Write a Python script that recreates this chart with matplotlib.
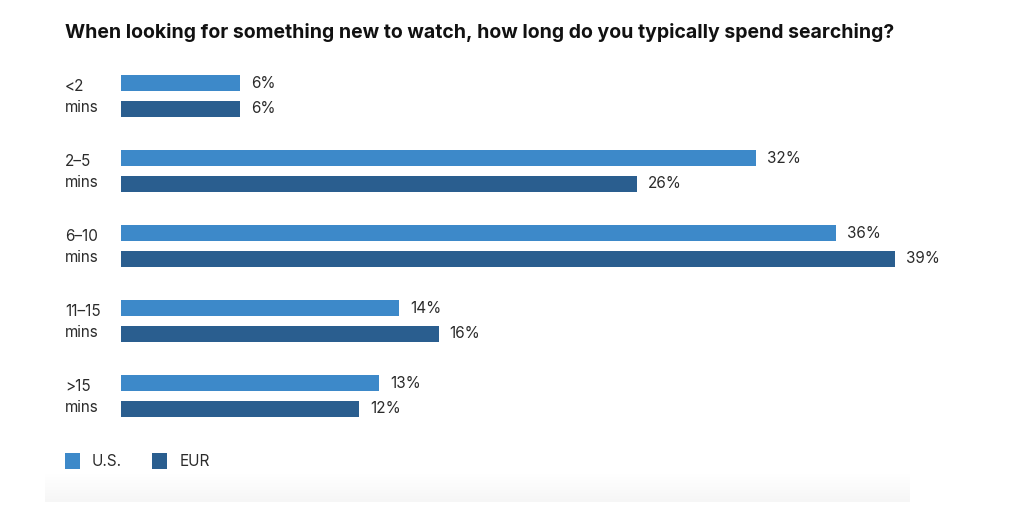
import matplotlib
matplotlib.use("Agg")
import matplotlib.pyplot as plt
import numpy as np

categories = ["<2\nmins", "2–5\nmins", "6–10\nmins", "11–15\nmins", ">15\nmins"]
us = [6, 32, 36, 14, 13]
eur = [6, 26, 39, 16, 12]
series_names = ["U.S.", "EUR"]
title = "When looking for something new to watch, how long do you typically spend searching?"

c_us = "#3D89C9"
c_eur = "#2A5E8F"
txt = "#2b2b2b"

W, H = 1024, 512
fig = plt.figure(figsize=(W / 100, H / 100), dpi=100)
fig.patch.set_facecolor("white")

# faint bottom gradient
gax = fig.add_axes([45 / W, 1 - 502 / H, (910 - 45) / W, 28 / H])
grad = np.linspace(1.0, 0.965, 50).reshape(-1, 1)
gax.imshow(np.dstack([grad, grad, grad]), aspect="auto", extent=[0, 1, 0, 1], vmin=0, vmax=1)
gax.axis("off")

px_per = 19.85
left_px, right_px = 121, 1021
top_px, bot_px = 58.5, 433.5
ax = fig.add_axes([left_px / W, 1 - bot_px / H, (right_px - left_px) / W, (bot_px - top_px) / H])
ax.set_xlim(0, (right_px - left_px) / px_per)
ax.set_ylim(len(categories) - 0.5, -0.5)
ax.axis("off")

y = np.arange(len(categories))
off = 0.173
h = 0.215
ax.barh(y - off, us, height=h, color=c_us, label=series_names[0])
ax.barh(y + off, eur, height=h, color=c_eur, label=series_names[1])

for yi, v in zip(y - off, us):
    ax.annotate(f"{v}%", (v, yi), xytext=(11, 0), textcoords="offset pixels",
                va="center", ha="left", fontsize=11, color=txt, family="Inter")
for yi, v in zip(y + off, eur):
    ax.annotate(f"{v}%", (v, yi), xytext=(11, 0), textcoords="offset pixels",
                va="center", ha="left", fontsize=11, color=txt, family="Inter")

for yi, cat in zip(y, categories):
    ax.text(-56 / px_per, yi + 0.01, cat, va="center", ha="left", fontsize=11, color=txt,
            family="Inter", linespacing=1.5)

fig.text(65 / W, 1 - 33 / H, title, fontsize=14, fontweight="bold", color="#111111",
         family="Inter", va="center", ha="left")

# legend
for xs, xt, col, name in [(65, 92, c_us, series_names[0]), (152, 180, c_eur, series_names[1])]:
    fig.patches.append(plt.Rectangle((xs / W, 1 - 469 / H), 15 / W, 16 / H, transform=fig.transFigure,
                                     facecolor=col, edgecolor="none"))
    fig.text(xt / W, 1 - 461 / H, name, fontsize=11, color=txt, family="Inter", va="center", ha="left")

fig.savefig("out.png", dpi=100)
